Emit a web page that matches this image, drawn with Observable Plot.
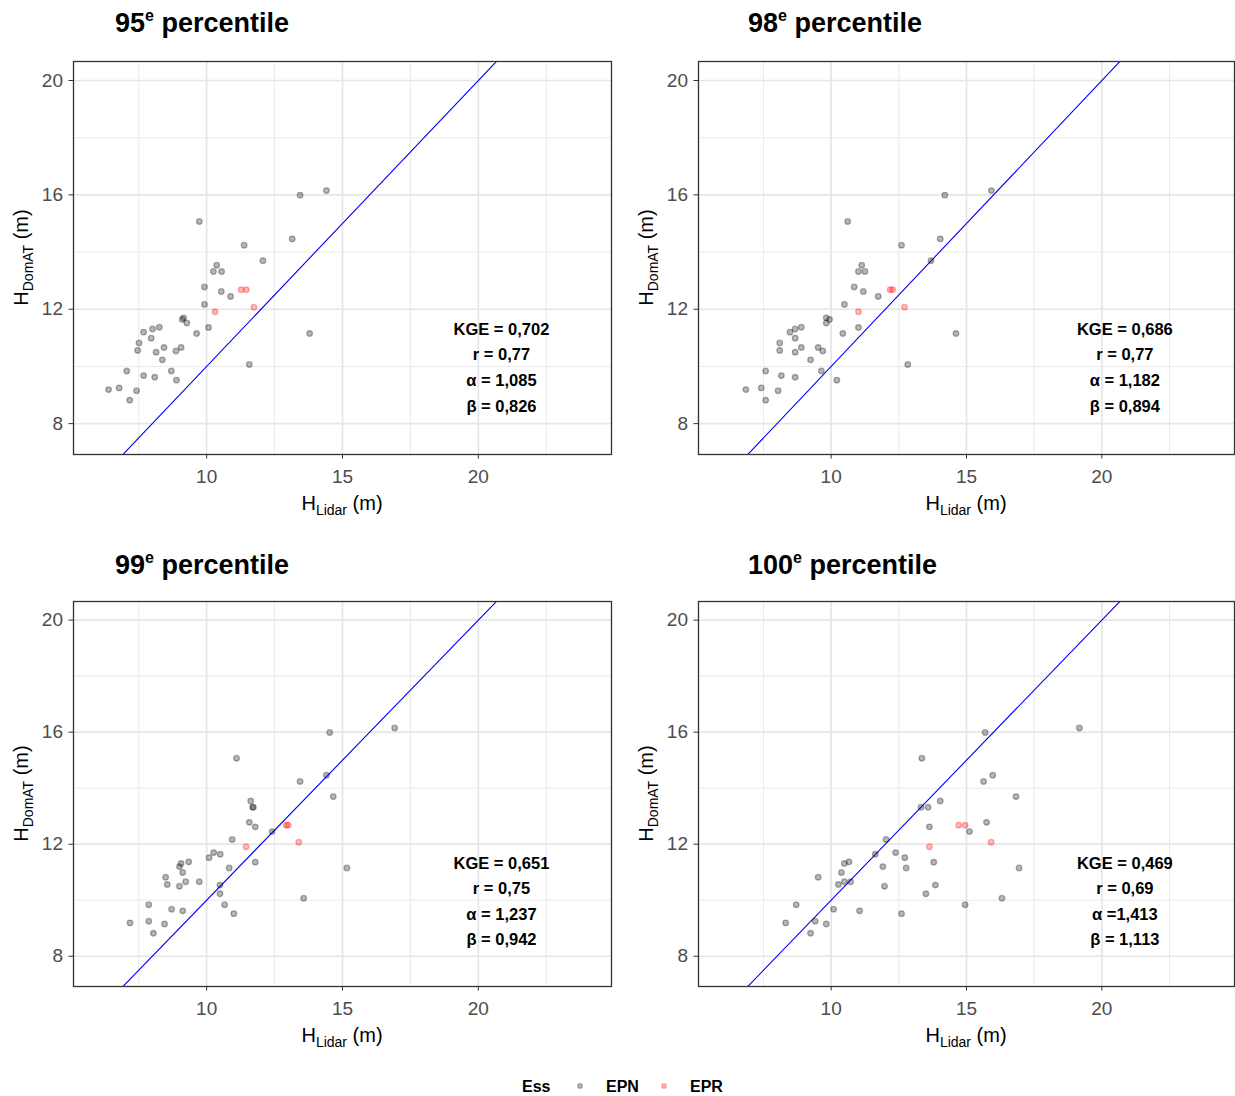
<!DOCTYPE html>
<html>
<head>
<meta charset="utf-8">
<script src="https://cdn.jsdelivr.net/npm/d3@7"></script>
<script src="https://cdn.jsdelivr.net/npm/@observablehq/plot@0.6"></script>
<style>
  body { margin: 0; background: #fff; font-family: "Liberation Sans", Arial, sans-serif; }
  #root { position: relative; width: 1235px; height: 1096px; overflow: hidden; background: #fff; }
  .ptitle { position: absolute; font-weight: bold; font-size: 27px; line-height: 32px; color: #000; white-space: nowrap; }
  .ptitle .sup { font-size: 16px; position: relative; top: -11px; }
  .panel { position: absolute; }
  .leg { position: absolute; font-weight: bold; font-size: 16px; line-height: 22px; color: #000; white-space: nowrap; }
</style>
</head>
<body>
<div id="root"></div>
<script>
// ---- data ----
const hDomAT = [16.15, 15.99, 15.07, 14.46, 14.24, 13.70, 13.54, 13.32, 13.32, 12.78,
  12.62, 12.45, 12.68, 12.68, 12.07, 11.91, 12.17, 11.70, 11.64, 11.52,
  11.36, 11.15, 11.37, 11.31, 11.20, 10.99, 10.82, 10.56, 10.50, 10.66,
  10.23, 10.54, 10.66, 10.07, 11.15, 9.84, 9.68, 9.62, 9.84, 9.52,
  9.19, 9.25, 9.15, 8.82];
const ess = hDomAT.map((_, i) => (i >= 12 && i <= 15) ? "EPR" : "EPN");
const p95 = [14.41, 13.44, 9.73, 13.15, 11.38, 12.07, 10.37, 10.25, 10.55, 9.92,
  10.54, 10.88, 11.27, 11.46, 11.74, 10.31, 9.92, 9.15, 9.10, 9.27,
  10.07, 9.63, 8.26, 8.01, 7.68, 7.96, 7.51, 7.46, 8.14, 8.43,
  8.37, 8.87, 9.06, 11.57, 13.79, 7.06, 7.68, 8.09, 8.70, 8.89,
  6.39, 6.78, 7.42, 7.17];
const p98 = [15.92, 14.20, 10.61, 14.03, 12.60, 13.69, 11.13, 11.01, 11.25, 10.85,
  11.19, 11.74, 12.18, 12.27, 12.71, 11.01, 10.49, 9.82, 9.94, 9.82,
  11.01, 10.43, 8.90, 8.67, 8.48, 8.67, 8.10, 8.10, 8.67, 8.90,
  9.24, 9.69, 9.52, 12.83, 14.61, 7.58, 8.16, 8.67, 9.64, 10.21,
  6.85, 7.42, 8.04, 7.58];
const p99 = [16.92, 14.53, 11.10, 14.41, 13.44, 14.66, 11.62, 11.69, 11.72, 11.57,
  11.79, 12.41, 12.93, 13.00, 13.39, 11.45, 10.94, 10.26, 10.50, 10.09,
  11.79, 10.83, 9.34, 9.06, 9.00, 9.12, 8.49, 8.55, 9.00, 9.23,
  10.49, 10.49, 9.73, 13.57, 15.16, 7.87, 8.71, 9.12, 10.66, 11.00,
  7.18, 7.87, 8.45, 8.04];
const p100 = [19.17, 15.69, 13.35, 15.97, 15.63, 16.83, 14.03, 13.32, 13.58, 15.74,
  13.63, 15.11, 14.71, 14.95, 15.91, 13.63, 12.03, 12.38, 11.63, 12.72,
  13.79, 12.77, 10.66, 10.49, 11.91, 10.38, 9.52, 10.27, 11.97, 10.49,
  13.50, 13.85, 10.72, 16.31, 16.94, 8.71, 10.09, 11.05, 14.95, 12.60,
  8.32, 9.41, 9.82, 9.24];
const stats95 = ["KGE = 0,702", "r = 0,77", "α = 1,085", "β = 0,826"];
const stats98 = ["KGE = 0,686", "r = 0,77", "α = 1,182", "β = 0,894"];
const stats99 = ["KGE = 0,651", "r = 0,75", "α = 1,237", "β = 0,942"];
const stats100 = ["KGE = 0,469", "r = 0,69", "α =1,413", "β = 1,113"];
const titleNums = ["95", "98", "99", "100"];
const xTicks = [10, 15, 20];
const xMinor = [7.5, 12.5, 17.5, 22.5];
const yTicks = [8, 12, 16, 20];
const yMinor = [10, 14, 18];
const refLine = [0, 30];           // identity line y = x
const statY = [11.3, 10.4, 9.5, 8.6];
const statX = 20.85;
const essDomain = ["EPN", "EPR"];
const essColors = ["#000000", "#FF0000"];

// ---- layout ----
const FONT = '"Liberation Sans", Arial, sans-serif';
const root = document.getElementById("root");
const layouts = [
  {xs: p95,  stats: stats95,  left: 0,   top: 40,  width: 620, mr: 9, fh: 393, tl: 115, tt: 7},
  {xs: p98,  stats: stats98,  left: 625, top: 40,  width: 610, mr: 1, fh: 393, tl: 748, tt: 7},
  {xs: p99,  stats: stats99,  left: 0,   top: 580, width: 620, mr: 9, fh: 385, tl: 115, tt: 549},
  {xs: p100, stats: stats100, left: 625, top: 580, width: 610, mr: 1, fh: 385, tl: 748, tt: 549}
];
const H = 480, MT = 21, ML = 73;

layouts.forEach((cfg, k) => {
  const rows = hDomAT.map((y, i) => ({lidar: cfg.xs[i], dom: y, ess: ess[i]}));
  const statRows = cfg.stats.map((t, i) => ({t, y: statY[i]}));
  const svg = Plot.plot({
    width: cfg.width, height: H,
    marginTop: MT, marginLeft: ML, marginRight: cfg.mr, marginBottom: H - MT - cfg.fh,
    x: {domain: [5.1, 24.9], label: null},
    y: {domain: [6.92, 20.665], label: null},
    color: {domain: essDomain, range: essColors},
    style: {fontFamily: FONT, background: "transparent", overflow: "visible"},
    marks: [
      Plot.gridX(xMinor, {stroke: "#EBEBEB", strokeOpacity: 1, strokeWidth: 1.1}),
      Plot.gridY(yMinor, {stroke: "#EBEBEB", strokeOpacity: 1, strokeWidth: 1.1}),
      Plot.gridX(xTicks, {stroke: "#E6E6E6", strokeOpacity: 1, strokeWidth: 1.7}),
      Plot.gridY(yTicks, {stroke: "#E6E6E6", strokeOpacity: 1, strokeWidth: 1.7}),
      Plot.line(refLine, {x: d => d, y: d => d, stroke: "#0000FF", strokeWidth: 1.1, clip: true}),
      Plot.dot(rows, {x: "lidar", y: "dom", r: 2.8, fill: "ess", fillOpacity: 0.28,
        stroke: "ess", strokeOpacity: 0.3, strokeWidth: 1.3}),
      Plot.text(statRows, {x: () => statX, y: "y", text: "t", fontWeight: "bold", fontSize: 16.5,
        fill: "#000", textAnchor: "middle"}),
      Plot.frame({stroke: "#333333", strokeWidth: 1.3}),
      Plot.axisX(xTicks, {tickSize: 4.5, tickPadding: 10, fontSize: 19, stroke: "#333333",
        fill: "#4D4D4D", label: null}),
      Plot.axisY(yTicks, {tickSize: 4.5, tickPadding: 6, fontSize: 19, stroke: "#333333",
        fill: "#4D4D4D", label: null})
    ]
  });
  svg.classList.add("panel");
  svg.style.left = cfg.left + "px";
  svg.style.top = cfg.top + "px";
  svg.style.maxWidth = "none";
  root.appendChild(svg);

  const s = d3.select(svg);
  const fx0 = ML, fx1 = cfg.width - cfg.mr;
  // x axis title
  const xt = s.append("text")
    .attr("x", (fx0 + fx1) / 2).attr("y", MT + cfg.fh + 56)
    .attr("text-anchor", "middle").attr("fill", "#000")
    .style("font-family", FONT).style("font-size", "20px");
  xt.append("tspan").text("H");
  xt.append("tspan").attr("dy", 5).style("font-size", "14px").text("Lidar");
  xt.append("tspan").attr("dy", -5).text(" (m)");
  // y axis title
  const cy = MT + cfg.fh / 2;
  const yt = s.append("text")
    .attr("transform", `translate(28,${cy}) rotate(-90)`)
    .attr("text-anchor", "middle").attr("fill", "#000")
    .style("font-family", FONT).style("font-size", "20px");
  yt.append("tspan").text("H");
  yt.append("tspan").attr("dy", 5).style("font-size", "14px").text("DomAT");
  yt.append("tspan").attr("dy", -5).text(" (m)");

  // panel title
  const t = document.createElement("div");
  t.className = "ptitle";
  t.style.left = cfg.tl + "px";
  t.style.top = cfg.tt + "px";
  t.innerHTML = titleNums[k] + '<span class="sup">e</span> percentile';
  root.appendChild(t);
});

// ---- legend ----
function legText(txt, x) {
  const d = document.createElement("div");
  d.className = "leg";
  d.style.left = x + "px";
  d.style.top = "1076px";
  d.textContent = txt;
  root.appendChild(d);
}
legText("Ess", 522);
const legSvg = d3.create("svg").attr("width", 1235).attr("height", 30)
  .style("position", "absolute").style("left", "0px").style("top", "1072px");
const legX = [580, 664];
essDomain.forEach((e, i) => {
  legSvg.append("circle").attr("cx", legX[i]).attr("cy", 14).attr("r", 2.3)
    .attr("fill", essColors[i]).attr("fill-opacity", 0.28)
    .attr("stroke", essColors[i]).attr("stroke-opacity", 0.3).attr("stroke-width", 1.2);
});
root.appendChild(legSvg.node());
legText(essDomain[0], 606);
legText(essDomain[1], 690);
</script>
</body>
</html>
